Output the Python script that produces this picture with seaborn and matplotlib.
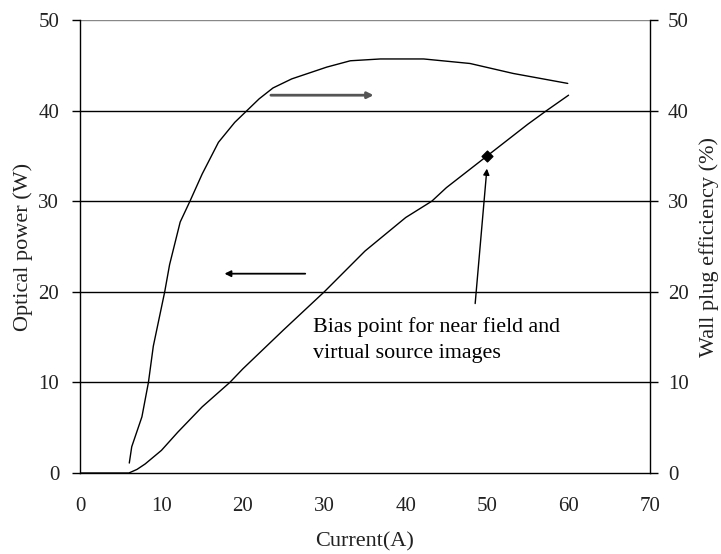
import numpy as np
import pandas as pd
import matplotlib
matplotlib.use('Agg')
import matplotlib.pyplot as plt
import seaborn as sns

# ------------------------------------------------------------
# Données
# ------------------------------------------------------------
courant_p = [0, 3, 6, 7, 8, 10, 12, 15, 18.4, 20, 25, 30, 35, 40, 43.2, 45, 50, 55, 57.3, 60]
puissance = [0, 0, 0, 0.4, 1.0, 2.5, 4.5, 7.3, 10, 11.5, 15.8, 20, 24.5, 28.2, 30, 31.5, 35, 38.5, 40, 41.7]

courant_e = [6.05, 6.35, 7.6, 8.4, 9.0, 10.4, 11.0, 12.3, 13.5, 15, 17, 19, 20.5, 22, 23.7, 26,
             30.3, 33.2, 36.9, 42.2, 47.9, 53.2, 59.9]
rendement = [1.1, 2.9, 6.2, 10, 14, 20, 23, 27.7, 30, 33, 36.5, 38.7, 40, 41.3, 42.5, 43.5,
             44.8, 45.5, 45.7, 45.7, 45.2, 44.1, 43.0]

point_x, point_y = 50, 35

sns.set_style('white')
plt.rcParams['font.family'] = ['Liberation Serif', 'DejaVu Serif']

fig = plt.figure(figsize=(7.21, 5.54), dpi=100)
ax = fig.add_axes([0.111, 0.1462, 0.7905, 0.8177])
ax2 = ax.twinx()

df_p = pd.DataFrame({'courant': courant_p, 'puissance': puissance})
df_e = pd.DataFrame({'courant': courant_e, 'rendement': rendement})

sns.lineplot(data=df_p, x='courant', y='puissance', ax=ax, color='black', linewidth=1.0)
sns.lineplot(data=df_e, x='courant', y='rendement', ax=ax2, color='black', linewidth=1.0)
ax.scatter([point_x], [point_y], marker='D', s=30, color='black', zorder=5)

ax.set_xlim(0, 70)
ax.set_ylim(0, 50)
ax2.set_ylim(0, 50)
ax.set_xticks(range(0, 71, 10))
ax.set_yticks(range(0, 51, 10))
ax2.set_yticks(range(0, 51, 10))

for y in range(10, 50, 10):
    ax.axhline(y, color='black', linewidth=1.0, zorder=0)
ax.axhline(50, color='#888888', linewidth=1.0, zorder=0)

for a in (ax, ax2):
    a.spines['top'].set_visible(False)
    for s in ('left', 'right', 'bottom'):
        a.spines[s].set_color('black')
        a.spines[s].set_linewidth(1.0)
ax.spines['right'].set_visible(False)
ax2.spines['left'].set_visible(False)
ax2.spines['bottom'].set_visible(False)

ax.tick_params(axis='x', direction='out', length=5, width=1, color='black',
               labelsize=15, labelcolor='#222222', pad=12)
ax.tick_params(axis='y', direction='out', length=6, width=1, color='black',
               labelsize=15, labelcolor='#222222', pad=9)
ax2.tick_params(axis='y', direction='out', length=6, width=1, color='black',
                labelsize=15, labelcolor='#222222', pad=7)

ax.set_xlabel('Current(A)', fontsize=16, color='#222222', labelpad=12)
ax.set_ylabel('Optical power (W)', fontsize=16, color='#222222', labelpad=4)
ax2.set_ylabel('Wall plug efficiency (%)', fontsize=16, color='#222222', labelpad=7)

# flèches indiquant l'axe de chaque courbe
ax.annotate('', xy=(36.4, 41.7), xytext=(23.1, 41.7),
            arrowprops=dict(arrowstyle='-|>', color='#555555', lw=2.0, mutation_scale=9))
ax.annotate('', xy=(17.4, 22.0), xytext=(28.0, 22.0),
            arrowprops=dict(arrowstyle='-|>', color='black', lw=1.3, mutation_scale=9))

ax.annotate('', xy=(50.0, 33.9), xytext=(48.5, 18.4),
            arrowprops=dict(arrowstyle='-|>', color='black', lw=1.0, mutation_scale=9))
ax.text(28.6, 17.2, 'Bias point for near field and\nvirtual source images',
        fontsize=15.8, color='black', va='top', ha='left', linespacing=1.5)

plt.savefig('out.png', dpi=100)
plt.close()
